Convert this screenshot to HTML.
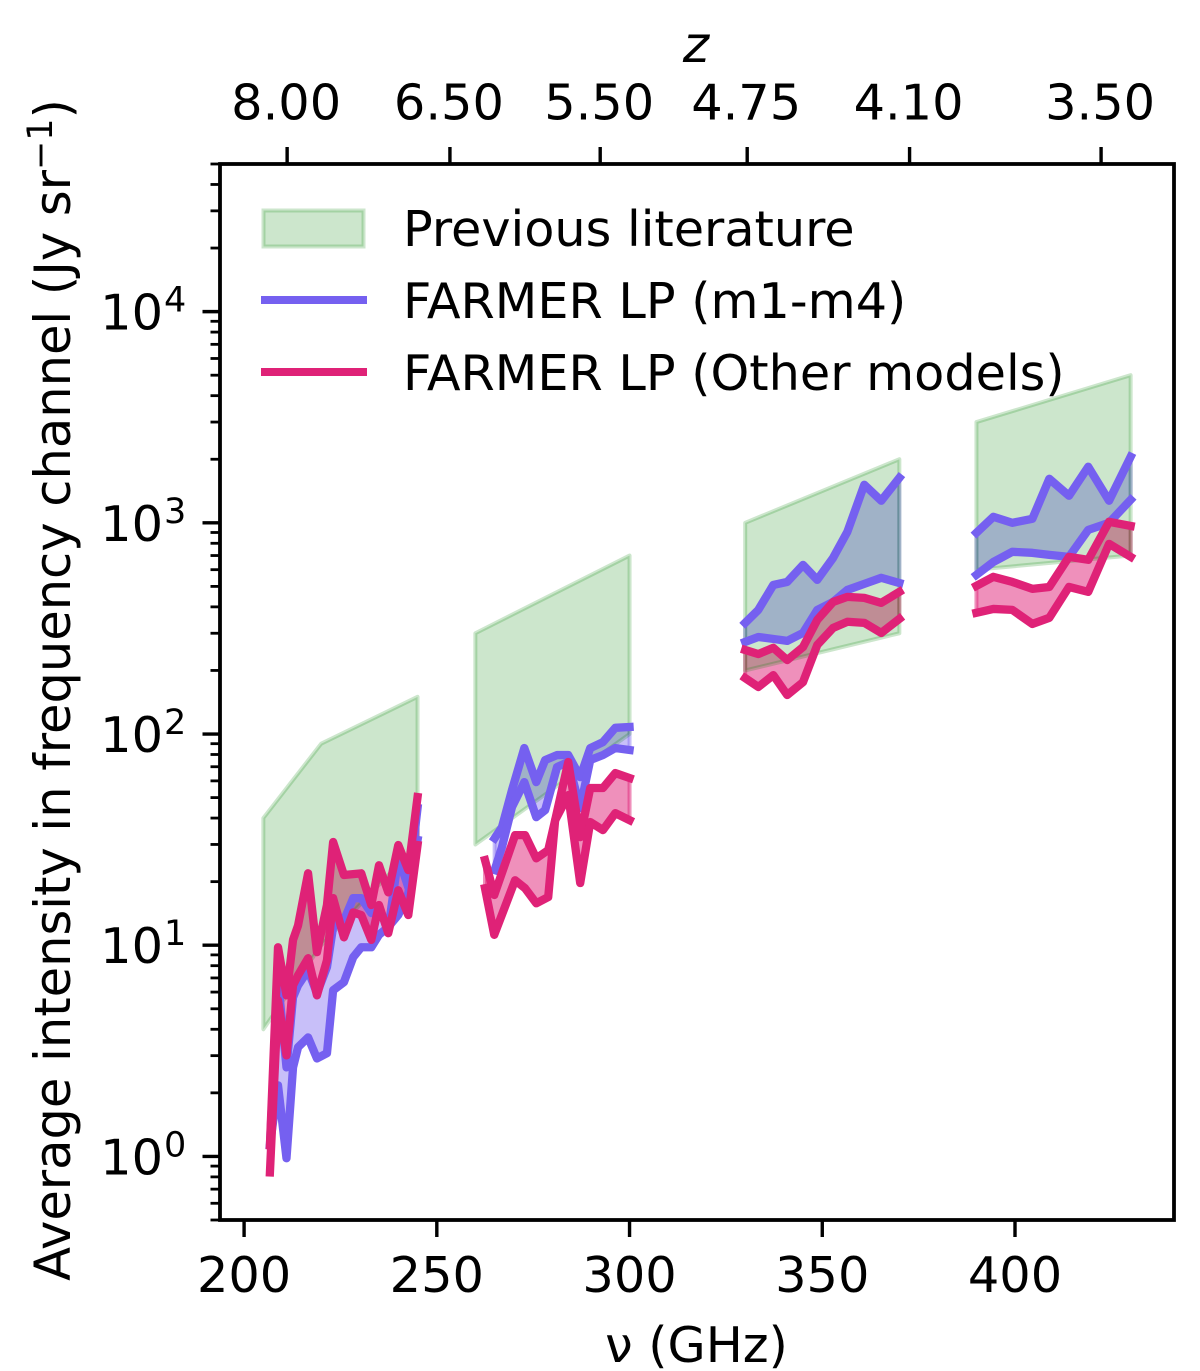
<!DOCTYPE html>
<html lang="en">
<head>
<meta charset="utf-8">
<title>Average intensity per frequency channel</title>
<style>
  html, body { margin: 0; padding: 0; background: #fff; }
  svg { display: block; }
  text { font-family: "DejaVu Sans", "Liberation Sans", sans-serif; fill: #000; }
</style>
</head>
<body>
<svg id="chart" xmlns="http://www.w3.org/2000/svg" width="1200" height="1371" viewBox="0 0 1200 1371">
  <rect x="0" y="0" width="1200" height="1371" fill="#ffffff"/>
  <g id="fills"></g>
  <g id="literature"></g>
  <g id="lines"></g>
  <g id="ticks"></g>
  <rect x="220" y="164" width="954" height="1056" fill="none" stroke="#000" stroke-width="3.8"/>

  <text x="696.5" y="1362" font-size="49.3" text-anchor="middle">ν (GHz)</text>
  <text x="696" y="62" font-size="50" font-style="italic" text-anchor="middle">z</text>
  <text transform="translate(70,690) rotate(-90)" font-size="49.5" text-anchor="middle">Average intensity in frequency channel (Jy sr<tspan font-size="35" dy="-18">−1</tspan><tspan dy="18">)</tspan></text>

  <g>
    <rect x="263.5" y="210.5" width="100" height="36" fill="#008000" fill-opacity="0.2" stroke="#008000" stroke-opacity="0.2" stroke-width="4"/>
    <text x="403" y="246" font-size="49.3">Previous literature</text>
    <line x1="261" y1="300" x2="367" y2="300" stroke="#7560F0" stroke-width="8"/>
    <text x="403" y="318" font-size="49.3">FARMER LP (m1-m4)</text>
    <line x1="261" y1="372" x2="367" y2="372" stroke="#DF2277" stroke-width="8"/>
    <text x="403" y="390" font-size="49.3">FARMER LP (Other models)</text>
  </g>
</svg>
<script>
// ---------- chart data ----------
const xTickValues = [200, 250, 300, 350, 400];
const yTickExponents = [0, 1, 2, 3, 4];
const zTickValues = ['8.00', '6.50', '5.50', '4.75', '4.10', '3.50'];

const litNu1 = [205, 220, 245];
const litUpper1 = [40, 90, 150];
const litLower1 = [4, 10, 30];
const litNu2 = [260, 300];
const litUpper2 = [300, 700];
const litLower2 = [30, 100];
const litNu3 = [330, 370];
const litUpper3 = [1000, 2000];
const litLower3 = [200, 300];
const litNu4 = [390, 430];
const litUpper4 = [3000, 5000];
const litLower4 = [600, 700];

const nuBand1 = [206.7, 208.8, 211, 212.7, 214, 216.6, 218.9, 221.5, 223.1, 225.9, 228.3, 230.4, 233, 235, 237.4, 240, 242.6, 245];
const blueUpper1 = [1.13, 6.83, 2.64, 5.67, 6.46, 7.61, 5.92, 7.87, 12.2, 13.1, 16.7, 16.7, 14.2, 15.1, 11.8, 26.1, 18.8, 44.6];
const blueLower1 = [1.13, 2.17, 0.98, 2.64, 3.29, 3.66, 2.91, 3.08, 6.12, 6.68, 8.77, 9.78, 9.78, 11.2, 12.2, 13.9, 17.6, 31.5];
const pinkUpper1 = [1.13, 9.78, 5.79, 10.6, 12.4, 21.9, 9.27, 15.5, 30.8, 21.5, 21.7, 21.9, 15.5, 23.9, 17.8, 29.8, 22.7, 50.3];
const pinkLower1 = [0.84, 5.49, 3.01, 6.46, 7.21, 8.68, 5.79, 8.49, 16.7, 10.9, 14.3, 13.9, 10.6, 15.5, 11.4, 18.2, 13.9, 29.8];

const nuBlue2 = [265, 266.9, 269.5, 272.7, 275.8, 278.1, 281.2, 284.1, 287.2, 289.8, 293.1, 296.3, 300];
const blueUpper2 = [32.1, 36.2, 54.3, 85.8, 59.2, 75.3, 79.5, 79.5, 62.5, 85.8, 91.6, 107, 108];
const blueLower2 = [22.7, 29.1, 45.1, 59.2, 40.4, 43.6, 69.8, 73.7, 44.6, 75.3, 79.5, 85.8, 84];
const nuPink2 = [262.5, 264.9, 270.3, 272.9, 275.8, 278.9, 280.7, 284.1, 287.2, 289.8, 293.1, 296.3, 300];
const pinkUpper2 = [25.3, 17.3, 33.2, 33.2, 25.8, 28.2, 39.1, 73.7, 32.5, 55.5, 55.5, 65.3, 61.9];
const pinkLower2 = [18.6, 11.2, 20.3, 18.6, 15.8, 16.9, 39.1, 51.4, 19.7, 38.3, 35.1, 42.2, 39.1];

const nuBand3 = [330, 333.4, 337.3, 340.9, 345, 348.7, 352.8, 356.5, 360.9, 365.3, 370];
const blueUpper3 = [336, 387, 508, 525, 632, 537, 682, 906, 1514, 1272, 1634];
const blueLower3 = [273, 288, 282, 276, 301, 387, 422, 481, 514, 549, 519];
const pinkUpper3 = [250, 239, 256, 224, 258, 347, 422, 446, 441, 418, 471];
const pinkLower3 = [184, 167, 190, 153, 176, 264, 318, 340, 336, 301, 351];

const nuBand4 = [390, 394.4, 399.3, 404.5, 408.9, 414, 419, 424.4, 430];
const blueUpper4 = [897, 1068, 1000, 1045, 1616, 1343, 1843, 1272, 2055];
const blueLower4 = [567, 653, 729, 721, 705, 690, 926, 1000, 1285];
const pinkUpper4 = [503, 555, 525, 487, 497, 690, 668, 1011, 967];
const pinkLower4 = [375, 391, 387, 332, 355, 497, 471, 795, 690];

// ---------- axis functions ----------
const NS = 'http://www.w3.org/2000/svg';
const plotLeft = 220, plotRight = 1174, plotTop = 164, plotBottom = 1220;
const nuMin = 193.75, nuMax = 441.25, logMin = Math.log10(0.5), logMax = Math.log10(50000);
const xScale = v => plotLeft + (v - nuMin) / (nuMax - nuMin) * (plotRight - plotLeft);
const yScale = v => plotBottom - (Math.log10(v) - logMin) / (logMax - logMin) * (plotBottom - plotTop);
const nuFromZ = z => 1900.5 / (1 + z);

const fillsLayer = document.getElementById('fills');
const litLayer = document.getElementById('literature');
const linesLayer = document.getElementById('lines');
const ticksLayer = document.getElementById('ticks');

const linePath = (nu, vals) => nu.map((n, i) => (i ? 'L' : 'M') + xScale(n).toFixed(2) + ' ' + yScale(vals[i]).toFixed(2)).join(' ');
function areaPath(nu, up, lo) {
  const back = nu.map((n, i) => 'L' + xScale(n).toFixed(2) + ' ' + yScale(lo[i]).toFixed(2)).reverse().join(' ');
  return linePath(nu, up) + ' ' + back + ' Z';
}

function drawFill(layer, nu, up, lo, color, alpha, name) {
  const el = document.createElementNS(NS, 'path');
  
  
  el.setAttribute('d', areaPath(nu, up, lo));
  el.setAttribute('fill', color);
  el.setAttribute('fill-opacity', alpha);
  el.setAttribute('stroke', color);
  el.setAttribute('stroke-opacity', alpha);
  el.setAttribute('stroke-width', '4');
  el.setAttribute('stroke-linejoin', 'round');
  layer.appendChild(el);
}

function drawLine(nu, vals, color, name) {
  const el = document.createElementNS(NS, 'path');
  
  
  el.setAttribute('d', linePath(nu, vals));
  el.setAttribute('fill', 'none');
  el.setAttribute('stroke', color);
  el.setAttribute('stroke-width', '8.3');
  el.setAttribute('stroke-linejoin', 'round');
  el.setAttribute('stroke-linecap', 'square');
  linesLayer.appendChild(el);
}

function drawTick(x1, y1, x2, y2, width, name) {
  const el = document.createElementNS(NS, 'line');
  
  
  el.setAttribute('x1', x1);
  el.setAttribute('y1', y1);
  el.setAttribute('x2', x2);
  el.setAttribute('y2', y2);
  el.setAttribute('stroke', '#000');
  el.setAttribute('stroke-width', width);
  ticksLayer.appendChild(el);
}

function drawLabel(x, y, content, name) {
  const el = document.createElementNS(NS, 'text');
  
  
  el.setAttribute('x', x);
  el.setAttribute('y', y);
  el.setAttribute('font-size', '49.4');
  el.setAttribute('text-anchor', 'middle');
  el.textContent = content;
  ticksLayer.appendChild(el);
  return el;
}

// ---------- marks ----------
const blue = '#7560F0', pink = '#DF2277', green = '#008000';

drawFill(fillsLayer, nuBand1, blueUpper1, blueLower1, blue, 0.4, 'band-1-m1-m4-fill');
drawFill(fillsLayer, nuBlue2, blueUpper2, blueLower2, blue, 0.4, 'band-2-m1-m4-fill');
drawFill(fillsLayer, nuBand3, blueUpper3, blueLower3, blue, 0.4, 'band-3-m1-m4-fill');
drawFill(fillsLayer, nuBand4, blueUpper4, blueLower4, blue, 0.4, 'band-4-m1-m4-fill');
drawFill(fillsLayer, nuBand1, pinkUpper1, pinkLower1, pink, 0.5, 'band-1-other-models-fill');
drawFill(fillsLayer, nuPink2, pinkUpper2, pinkLower2, pink, 0.5, 'band-2-other-models-fill');
drawFill(fillsLayer, nuBand3, pinkUpper3, pinkLower3, pink, 0.5, 'band-3-other-models-fill');
drawFill(fillsLayer, nuBand4, pinkUpper4, pinkLower4, pink, 0.5, 'band-4-other-models-fill');

drawFill(litLayer, litNu1, litUpper1, litLower1, green, 0.2, 'band-1-literature-region');
drawFill(litLayer, litNu2, litUpper2, litLower2, green, 0.2, 'band-2-literature-region');
drawFill(litLayer, litNu3, litUpper3, litLower3, green, 0.2, 'band-3-literature-region');
drawFill(litLayer, litNu4, litUpper4, litLower4, green, 0.2, 'band-4-literature-region');

drawLine(nuBand1, blueUpper1, blue, 'band-1-m1-m4-upper-line');
drawLine(nuBand1, blueLower1, blue, 'band-1-m1-m4-lower-line');
drawLine(nuBlue2, blueUpper2, blue, 'band-2-m1-m4-upper-line');
drawLine(nuBlue2, blueLower2, blue, 'band-2-m1-m4-lower-line');
drawLine(nuBand3, blueUpper3, blue, 'band-3-m1-m4-upper-line');
drawLine(nuBand3, blueLower3, blue, 'band-3-m1-m4-lower-line');
drawLine(nuBand4, blueUpper4, blue, 'band-4-m1-m4-upper-line');
drawLine(nuBand4, blueLower4, blue, 'band-4-m1-m4-lower-line');
drawLine(nuBand1, pinkUpper1, pink, 'band-1-other-models-upper-line');
drawLine(nuBand1, pinkLower1, pink, 'band-1-other-models-lower-line');
drawLine(nuPink2, pinkUpper2, pink, 'band-2-other-models-upper-line');
drawLine(nuPink2, pinkLower2, pink, 'band-2-other-models-lower-line');
drawLine(nuBand3, pinkUpper3, pink, 'band-3-other-models-upper-line');
drawLine(nuBand3, pinkLower3, pink, 'band-3-other-models-lower-line');
drawLine(nuBand4, pinkUpper4, pink, 'band-4-other-models-upper-line');
drawLine(nuBand4, pinkLower4, pink, 'band-4-other-models-lower-line');

// ---------- axes ----------
xTickValues.forEach(v => {
  drawTick(xScale(v), plotBottom, xScale(v), plotBottom + 17, 3.4, 'x-tick');
  drawLabel(xScale(v), 1292, String(v), 'x-tick-label');
});
zTickValues.forEach(z => {
  const x = xScale(nuFromZ(parseFloat(z)));
  drawTick(x, plotTop, x, plotTop - 17, 3.4, 'z-tick');
  drawLabel(x - 1, 119.5, z, 'z-tick-label');
});
yTickExponents.forEach(e => {
  const y = yScale(Math.pow(10, e));
  drawTick(plotLeft, y, plotLeft - 17.5, y, 3.4, 'y-tick');
  const el = drawLabel(163, y + 18, '10', 'y-tick-label');
  el.setAttribute('text-anchor', 'end');
  const sup = document.createElementNS(NS, 'text');
  
  
  sup.setAttribute('x', 164);
  sup.setAttribute('y', y);
  sup.setAttribute('font-size', '35');
  sup.textContent = String(e);
  ticksLayer.appendChild(sup);
});
for (let e = -1; e <= 4; e++) {
  for (let m = 2; m <= 9; m++) {
    const v = m * Math.pow(10, e);
    if (v < 0.5 || v > 50000) continue;
    drawTick(plotLeft, yScale(v), plotLeft - 9.5, yScale(v), 2.8, 'y-minor-tick');
  }
}
</script>
</body>
</html>
